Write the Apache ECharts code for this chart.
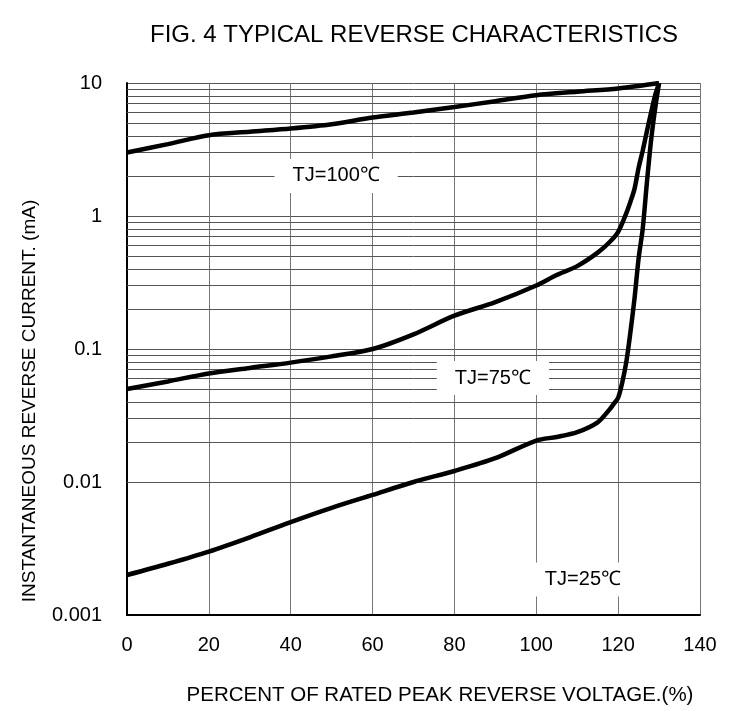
<!DOCTYPE html>
<html>
<head>
<meta charset="utf-8">
<script src="https://cdn.jsdelivr.net/npm/echarts@6/dist/echarts.min.js"></script>
<style>
html,body{margin:0;padding:0;background:#fff;}
#chart{width:730px;height:711px;}
</style>
</head>
<body>
<div id="chart"></div>
<script>
// ---- data ----
const x100 = [0, 10, 20, 30, 40, 50, 60, 70, 80, 90, 100, 110, 120, 125, 130];
const tj100 = [3.0, 3.47, 4.05, 4.3, 4.55, 4.9, 5.5, 6.0, 6.6, 7.3, 8.1, 8.6, 9.1, 9.5, 10];

const x75 = [0, 10, 20, 30, 40, 50, 60, 70, 80, 90, 100, 105, 110, 115, 118, 120, 122, 123, 124, 125, 126, 127, 128, 129, 130];
const tj75 = [0.05, 0.057, 0.0655, 0.072, 0.079, 0.088, 0.1, 0.129, 0.178, 0.225, 0.3, 0.36, 0.42, 0.53, 0.64, 0.76, 1.05, 1.28, 1.6, 2.3, 3.1, 4.3, 5.9, 8.0, 10];

const x25 = [0, 10, 20, 30, 40, 50, 60, 70, 80, 90, 100, 105, 110, 115, 118, 119, 120, 121, 122, 123, 124, 125, 126, 127, 128, 129, 130];
const tj25 = [0.002, 0.00243, 0.003, 0.00384, 0.005, 0.0064, 0.008, 0.01, 0.0121, 0.0151, 0.0205, 0.0218, 0.0237, 0.0281, 0.0354, 0.039, 0.043, 0.056, 0.08, 0.134, 0.24, 0.48, 0.8, 1.75, 3.6, 6.3, 10];

const curveNames = ['TJ=100℃', 'TJ=75℃', 'TJ=25℃'];
// label anchor positions [x, y]
const labelAnchors = [[51.1, 2.0], [89.4, 0.0604], [111.4, 0.00185]];

const xTicks = [0, 20, 40, 60, 80, 100, 120, 140];
const yTickLabels = ['0.001', '0.01', '0.1', '1', '10'];
const titleText = 'FIG. 4 TYPICAL REVERSE CHARACTERISTICS';
const xName = 'PERCENT OF RATED PEAK REVERSE VOLTAGE.(%)';
const yName = 'INSTANTANEOUS REVERSE CURRENT. (mA)';

// minor log grid values 2..9 per decade
const minorY = [];
for (let d = -3; d < 1; d++) {
  for (let m = 2; m <= 9; m++) minorY.push(+(m * Math.pow(10, d)).toPrecision(3));
}

const FONT = "'Liberation Sans', Arial, sans-serif";
const zip = (xs, ys) => xs.map((x, i) => [x, ys[i]]);

const chart = echarts.init(document.getElementById('chart'), null, {renderer: 'canvas'});

const curve = (name, data) => ({
  name, type: 'line', data, showSymbol: false, symbol: 'none',
  smooth: 0.3,
  lineStyle: {color: '#000', width: 4.5}, z: 5, silent: true
});

chart.setOption({
  animation: false,
  backgroundColor: '#fff',
  title: {
    text: titleText, left: 145, top: 18,
    textStyle: {fontFamily: FONT, fontSize: 24, fontWeight: 'normal', color: '#000'}
  },
  grid: {left: 127, right: 30, top: 83, bottom: 89},
  xAxis: {
    type: 'value', min: 0, max: 140, interval: 20,
    name: xName, nameLocation: 'middle', nameGap: 70,
    nameTextStyle: {fontFamily: FONT, fontSize: 20.5, color: '#000', padding: [0, 0, 0, 53]},
    axisLine: {show: true, lineStyle: {color: '#000', width: 2}},
    axisTick: {show: false},
    axisLabel: {fontFamily: FONT, fontSize: 20, color: '#000', margin: 20,
      formatter: v => xTicks.indexOf(v) >= 0 ? String(v) : ''},
    splitLine: {show: true, lineStyle: {color: '#777', width: 1}}
  },
  yAxis: {
    type: 'log', logBase: 10, min: 0.001, max: 10,
    name: yName, nameLocation: 'middle', nameGap: 88, nameRotate: 90,
    nameTextStyle: {fontFamily: FONT, fontSize: 19, color: '#000', padding: [0, 104, 0, 0]},
    axisLine: {show: true, onZero: false, lineStyle: {color: '#000', width: 2}},
    axisTick: {show: false},
    axisLabel: {fontFamily: FONT, fontSize: 20, color: '#000', margin: 25,
      formatter: v => yTickLabels[Math.round(Math.log10(v)) + 3]},
    splitLine: {show: true, lineStyle: {color: '#555', width: 1}}
  },
  series: [
    {
      name: 'minor', type: 'line', data: [], silent: true, z: 1,
      markLine: {
        silent: true, symbol: 'none', animation: false, z: 1,
        label: {show: false},
        lineStyle: {type: 'solid', color: '#555', width: 1},
        data: minorY.map(v => ({yAxis: v}))
      }
    },
    {
      name: 'labels', type: 'scatter', z: 3, silent: true,
      symbolSize: 1, itemStyle: {color: '#fff', opacity: 1},
      data: labelAnchors.map((p, i) => ({value: p, name: curveNames[i]})),
      label: {
        show: true, position: 'inside', formatter: p => p.name,
        fontFamily: FONT, fontSize: 20, color: '#000',
        backgroundColor: '#ffffff', padding: [7, 18]
      },
      emphasis: {disabled: true}
    },
    curve(curveNames[0], zip(x100, tj100)),
    curve(curveNames[1], zip(x75, tj75)),
    curve(curveNames[2], zip(x25, tj25))
  ]
});
</script>
</body>
</html>
